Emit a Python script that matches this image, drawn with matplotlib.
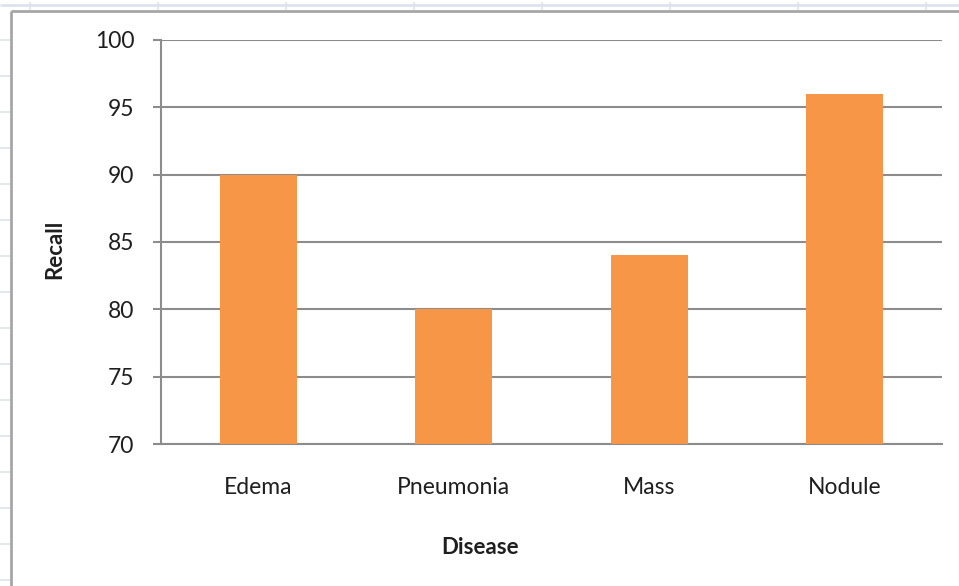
import matplotlib
matplotlib.use("Agg")
import matplotlib.pyplot as plt
from matplotlib.lines import Line2D

# Data
diseases = ["Edema", "Pneumonia", "Mass", "Nodule"]
recall = [90, 80, 84, 96]
y_ticks = [70, 75, 80, 85, 90, 95, 100]

W, H = 959, 586
fig = plt.figure(figsize=(W / 100, H / 100), dpi=100)
fig.patch.set_facecolor("white")

def px(x, y):
    return x / W, 1 - y / H

def fig_line(x0, y0, x1, y1, color, lw):
    (fx0, fy0), (fx1, fy1) = px(x0, y0), px(x1, y1)
    fig.add_artist(Line2D([fx0, fx1], [fy0, fy1], transform=fig.transFigure,
                          color=color, lw=lw, solid_capstyle="butt"))

# Sheet grid behind the chart object
grid_blue = "#dde3ee"
fig_line(0, 5, W, 5, grid_blue, 2.0)
for x in range(30, W, 128):
    fig_line(x, 2, x, 10, grid_blue, 1.2)
for y in range(40, H, 36):
    fig_line(0, y, 10, y, grid_blue, 1.2)

# Chart object frame
fig_line(11, 11, W, 11, "#a6a6a6", 2.0)
fig_line(11, 11, 11, H, "#a6a6a6", 2.0)

# Plot area
left, right, top, bottom = 161, 942, 40, 444
ax = fig.add_axes([left / W, 1 - bottom / H, (right - left) / W, (bottom - top) / H])
ax.set_facecolor("white")

xpos = range(len(diseases))
ax.bar(xpos, recall, width=0.395, color="#F79646", zorder=3)

ax.set_ylim(70, 100)
ax.set_xlim(-0.5, len(diseases) - 0.5)
ax.set_yticks(y_ticks)
ax.set_xticks(list(xpos))
ax.set_xticklabels(diseases)

font = "Lato"
txt = "#1f1f1f"
for lab in ax.get_yticklabels() + ax.get_xticklabels():
    lab.set_fontfamily(font)
    lab.set_fontsize(16.5)
    lab.set_color(txt)

ax.yaxis.grid(True, color="#8c8c8c", lw=1.5, zorder=1)
ax.set_axisbelow(True)
for side in ["top", "right"]:
    ax.spines[side].set_visible(False)
ax.spines["left"].set_color("#8c8c8c")
ax.spines["left"].set_linewidth(1.5)
ax.spines["bottom"].set_color("#8c8c8c")
ax.spines["bottom"].set_linewidth(1.5)
ax.tick_params(axis="y", length=6, width=1.5, color="#8c8c8c", pad=13)
ax.tick_params(axis="x", length=0, pad=24)

fx, fy = px(55, 249)
fig.text(fx, fy, "Recall", rotation=90, ha="center", va="center",
         fontfamily=font, fontsize=16, fontweight="bold", color=txt)
fx, fy = px(480, 548)
fig.text(fx, fy, "Disease", ha="center", va="center",
         fontfamily=font, fontsize=16, fontweight="bold", color=txt)

fig.savefig("out.png", dpi=100, facecolor="white")
